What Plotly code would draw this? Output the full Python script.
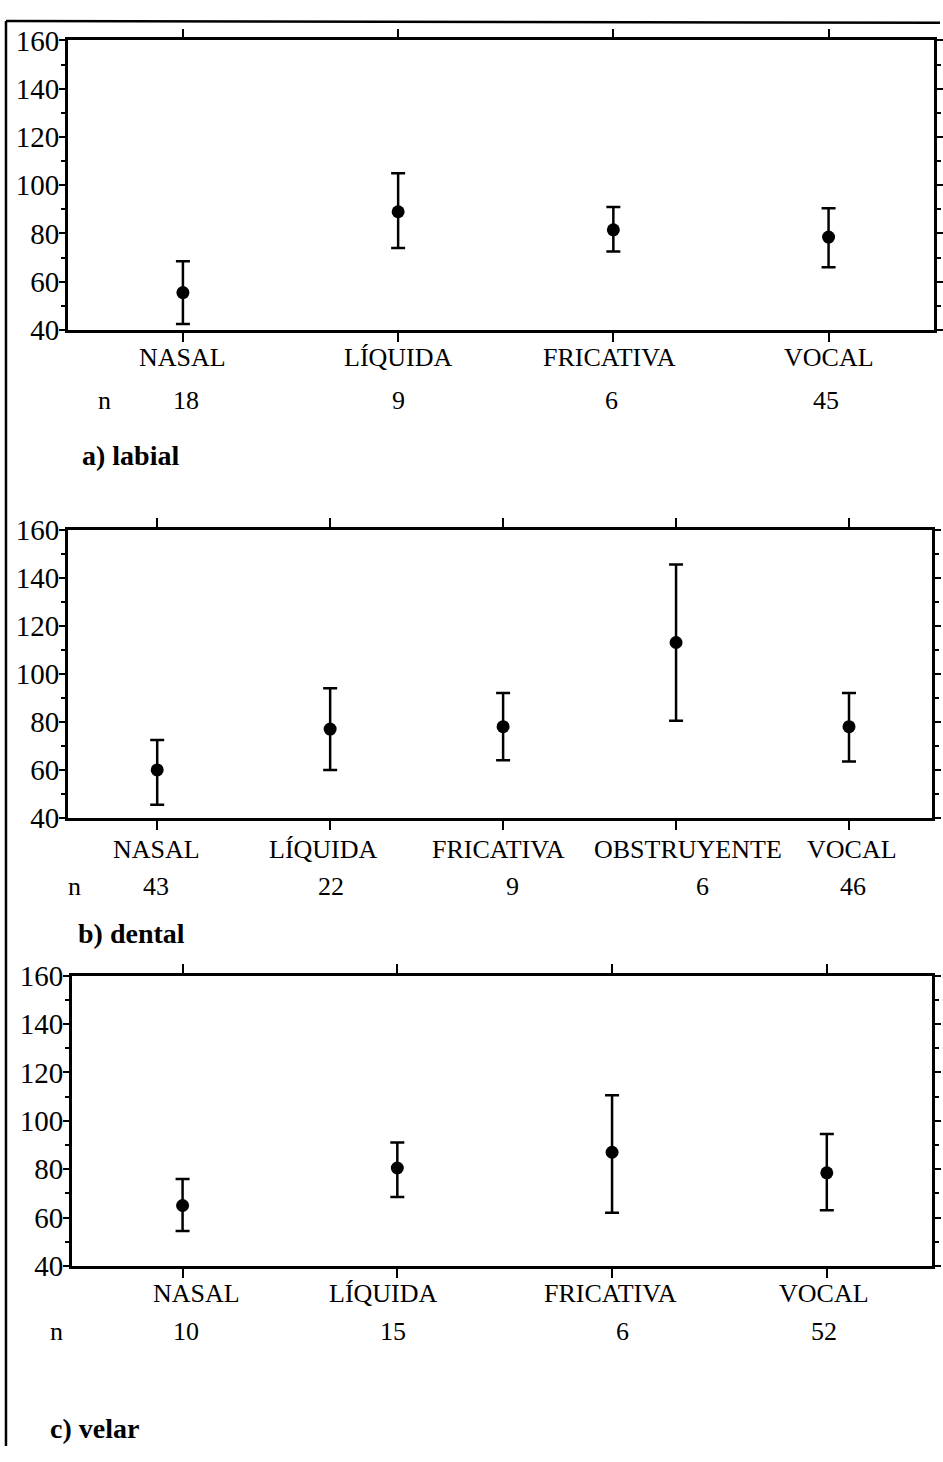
import plotly.graph_objects as go

# Duration means with upper/lower interval limits by preceding segment class
labial_cats = ["NASAL", "LÍQUIDA", "FRICATIVA", "VOCAL"]
labial_mean = [55.5, 89, 81.5, 78.5]
labial_upper = [68.5, 105, 91, 90.5]
labial_lower = [42.5, 74, 72.5, 66]
labial_n = [18, 9, 6, 45]

dental_cats = ["NASAL", "LÍQUIDA", "FRICATIVA", "OBSTRUYENTE", "VOCAL"]
dental_mean = [60, 77, 78, 113, 78]
dental_upper = [72.5, 94, 92, 145.5, 92]
dental_lower = [45.5, 60, 64, 80.5, 63.5]
dental_n = [43, 22, 9, 6, 46]

velar_cats = ["NASAL", "LÍQUIDA", "FRICATIVA", "VOCAL"]
velar_mean = [65, 80.5, 87, 78.5]
velar_upper = [76, 91, 110.5, 94.5]
velar_lower = [54.5, 68.5, 62, 63]
velar_n = [10, 15, 6, 52]

panel_titles = ["a) labial", "b) dental", "c) velar"]

W, H = 943, 1462
FONT = "Liberation Serif, Times New Roman, serif"


def py(px):
    return 1 - px / H


def px_x(px):
    return px / W


panels = [
    dict(cats=labial_cats, mean=labial_mean, up=labial_upper, lo=labial_lower, n=labial_n,
         xdom=[px_x(68), px_x(937)], ydom=[py(321), py(25)], xr=[-0.535, 3.49],
         cat_y=349, n_y=393, n_x=105, t_x=80, t_y=449,
         cat_shift=[0, 0, -4, 0], n_shift=[3, 0, -2, -3]),
    dict(cats=dental_cats, mean=dental_mean, up=dental_upper, lo=dental_lower, n=dental_n,
         xdom=[px_x(68), px_x(935)], ydom=[py(820), py(525)], xr=[-0.517, 4.48],
         cat_y=852, n_y=890, n_x=75, t_x=76, t_y=938,
         cat_shift=[-1, -7, -5, 12, 3], n_shift=[-1, 1, 9, 26, 4]),
    dict(cats=velar_cats, mean=velar_mean, up=velar_upper, lo=velar_lower, n=velar_n,
         xdom=[px_x(72), px_x(935)], ydom=[py(1278), py(981)], xr=[-0.516, 3.49],
         cat_y=1306, n_y=1345, n_x=57, t_x=48, t_y=1444,
         cat_shift=[14, -14, -2, -3], n_shift=[3, -4, 10, -3]),
]

fig = go.Figure()
annotations = []

for i, p in enumerate(panels, start=1):
    xa = "x" if i == 1 else f"x{i}"
    ya = "y" if i == 1 else f"y{i}"
    plus = [u - m for u, m in zip(p["up"], p["mean"])]
    minus = [m - l for m, l in zip(p["mean"], p["lo"])]
    fig.add_trace(go.Scatter(
        x=p["cats"], y=p["mean"], mode="markers",
        marker=dict(color="black", size=13, symbol="circle"),
        error_y=dict(type="data", symmetric=False, array=plus, arrayminus=minus,
                     color="black", thickness=2.5, width=7),
        xaxis=xa, yaxis=ya, showlegend=False, hoverinfo="skip",
    ))

    xkey = "xaxis" if i == 1 else f"xaxis{i}"
    ykey = "yaxis" if i == 1 else f"yaxis{i}"
    fig.update_layout({
        xkey: dict(domain=p["xdom"], anchor=ya, type="category",
                   categoryorder="array", categoryarray=p["cats"], range=p["xr"],
                   showline=True, linecolor="black", linewidth=2.5, mirror="allticks",
                   ticks="outside", ticklen=9, tickwidth=2, tickcolor="black",
                   showticklabels=False, showgrid=False, zeroline=False, fixedrange=True),
        ykey: dict(domain=p["ydom"], anchor=xa, range=[40, 160], dtick=20, tick0=40,
                   showline=True, linecolor="black", linewidth=2.5, mirror="allticks",
                   ticks="outside", ticklen=6, tickwidth=2, tickcolor="black",
                   ticklabelstandoff=-6,
                   minor=dict(dtick=10, ticks="outside", ticklen=4, tickwidth=1.5,
                              tickcolor="black", showgrid=False),
                   tickfont=dict(family=FONT, size=29, color="black"),
                   showgrid=False, zeroline=False, fixedrange=True),
    })

    for c, n, cs, ns in zip(p["cats"], p["n"], p["cat_shift"], p["n_shift"]):
        annotations.append(dict(x=c, xref=xa, y=py(p["cat_y"]), yref="paper",
                                text=c, showarrow=False, xshift=cs,
                                font=dict(family=FONT, size=26, color="black"),
                                xanchor="center", yanchor="middle"))
        annotations.append(dict(x=c, xref=xa, y=py(p["n_y"]), yref="paper",
                                text=str(n), showarrow=False, xshift=ns,
                                font=dict(family=FONT, size=26, color="black"),
                                xanchor="center", yanchor="middle"))
    annotations.append(dict(x=px_x(p["n_x"]), xref="paper", y=py(p["n_y"]), yref="paper",
                            text="n", showarrow=False,
                            font=dict(family=FONT, size=26, color="black"),
                            xanchor="center", yanchor="middle"))
    annotations.append(dict(x=px_x(p["t_x"]), xref="paper", y=py(p["t_y"]), yref="paper",
                            text=f"<b>{panel_titles[i - 1]}</b>", showarrow=False,
                            font=dict(family=FONT, size=28, color="black"),
                            xanchor="left", yanchor="middle"))

# outer frame: left rule and top rule of the figure
shapes = [
    dict(type="line", xref="paper", yref="paper", x0=px_x(6), x1=px_x(6), y0=0, y1=py(5),
         line=dict(color="black", width=2.5)),
    dict(type="line", xref="paper", yref="paper", x0=px_x(6), x1=1, y0=py(5), y1=py(7),
         line=dict(color="black", width=2.5)),
]

fig.update_layout(
    width=W, height=H, margin=dict(l=0, r=0, t=0, b=0),
    paper_bgcolor="white", plot_bgcolor="white",
    annotations=annotations, shapes=shapes, showlegend=False,
)

fig.write_html("out.html", config={"displayModeBar": False})
